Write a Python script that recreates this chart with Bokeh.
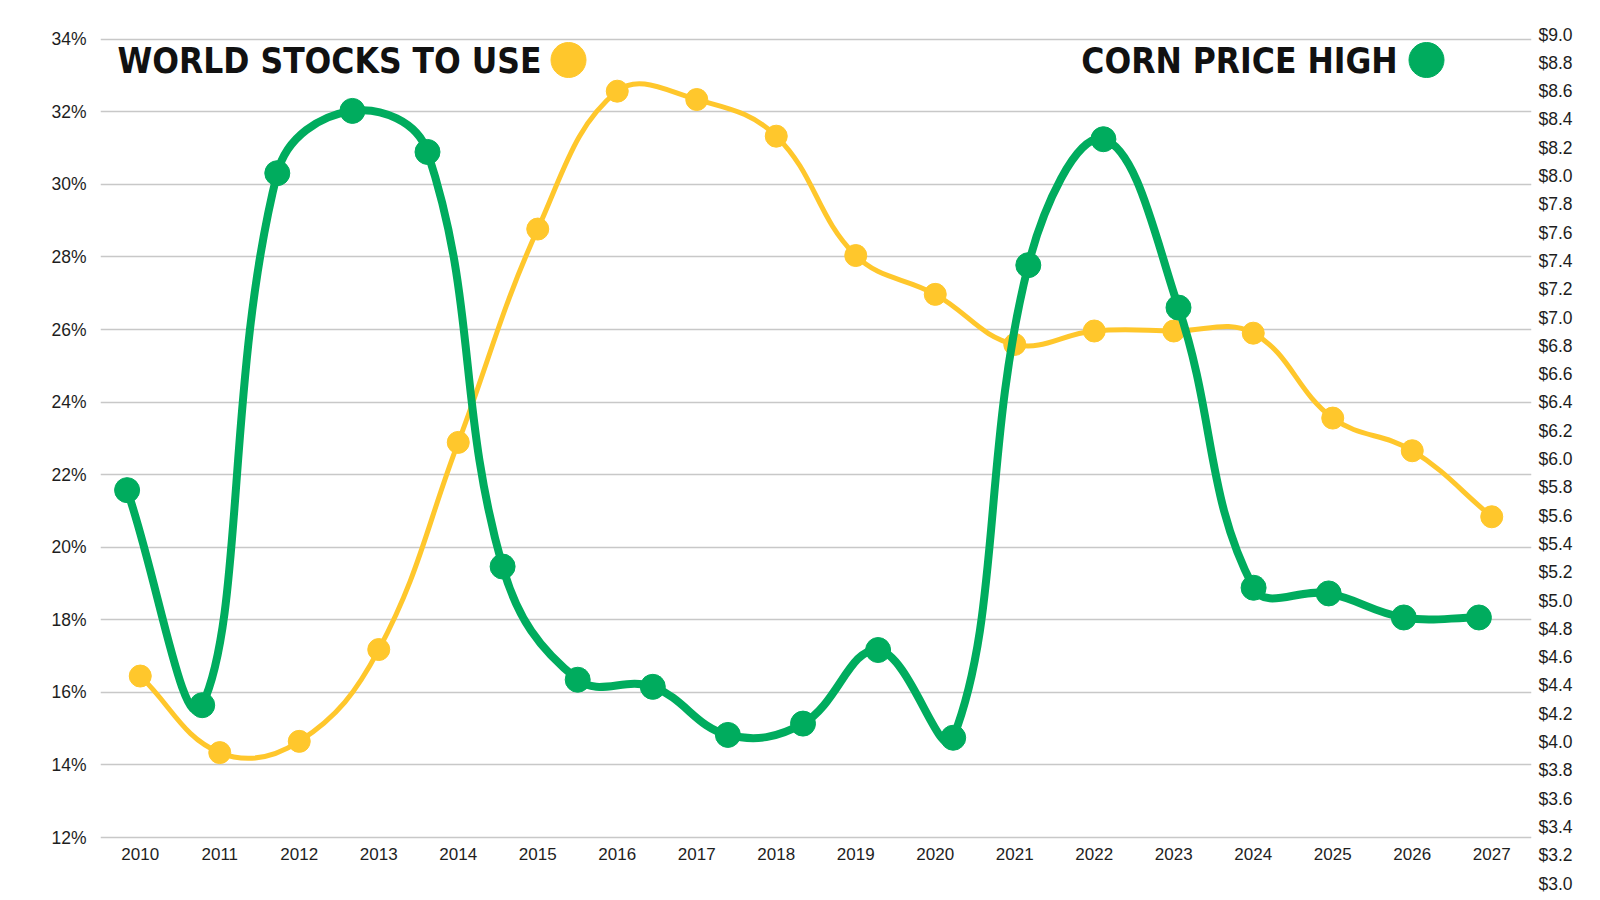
import math
from bokeh.plotting import figure
from bokeh.models import (Range1d, LinearAxis, FixedTicker, PrintfTickFormatter,
                          ColumnDataSource)
from bokeh.core.properties import value
from bokeh.embed import file_html
from bokeh.resources import INLINE

# ---------------- data ----------------
YEARS = list(range(2010, 2028))
STOCKS_TO_USE = [16.45, 14.34, 14.65, 17.18, 22.89, 28.77, 32.57, 32.34, 31.33,
                 28.04, 26.97, 25.59, 25.96, 25.96, 25.90, 23.56, 22.66, 20.84]
CORN_PRICE_HIGH = [5.78, 4.26, 8.02, 8.46, 8.17, 5.24, 4.44, 4.39, 4.05, 4.13,
                   4.65, 4.03, 7.37, 8.26, 7.07, 5.09, 5.05, 4.88, 4.88]
GREEN_IDX = list(range(len(CORN_PRICE_HIGH)))
PCT_TICKS = list(range(12, 35, 2))
PRICE_TICKS = [round(3.0 + 0.2 * i, 1) for i in range(31)]
SERIES_NAMES = ["WORLD STOCKS TO USE", "CORN PRICE HIGH"]

YELLOW = "#FFC72C"
GREEN = "#00AC5E"
TEXT = "#1e1e1e"

# ---------------- geometry (page pixels) ----------------
FRAME_L, FRAME_R, FRAME_T, FRAME_B = 100, 1531, 34, 883
FRAME_W, FRAME_H = FRAME_R - FRAME_L, FRAME_B - FRAME_T
PCT_TOP_PX, PCT_BOT_PX = 38.8, 837.0          # where 34% and 12% sit
px_per_pct = (PCT_BOT_PX - PCT_TOP_PX) / (PCT_TICKS[-1] - PCT_TICKS[0])
Y_END = PCT_TICKS[-1] + (PCT_TOP_PX - FRAME_T) / px_per_pct
Y_START = PCT_TICKS[0] - (FRAME_B - PCT_BOT_PX) / px_per_pct
X_START, X_END = YEARS[0] - 0.5, YEARS[-1] + 0.5
G_FIRST_PX, G_LAST_PX = 126.6, 1478.4
g_px = (G_LAST_PX - G_FIRST_PX) / (len(GREEN_IDX) - 1)
G_START = -(G_FIRST_PX - FRAME_L) / g_px
G_END = (len(GREEN_IDX) - 1) + (FRAME_R - G_LAST_PX) / g_px
P_START, P_END = PRICE_TICKS[0], PRICE_TICKS[-1]


def x_at(px):
    return X_START + (px - FRAME_L) / FRAME_W * (X_END - X_START)


def pct_at(py):
    return Y_START + (FRAME_B - py) / FRAME_H * (Y_END - Y_START)


def spline(xs, ys, sx, sy, tension=0.4):
    n = len(xs)
    prev_cp, next_cp = [], []
    for i in range(n):
        a, c = max(i - 1, 0), min(i + 1, n - 1)
        d01 = math.hypot((xs[i] - xs[a]) * sx, (ys[i] - ys[a]) * sy)
        d12 = math.hypot((xs[c] - xs[i]) * sx, (ys[c] - ys[i]) * sy)
        tot = d01 + d12
        s01 = d01 / tot if tot else 0.0
        s12 = d12 / tot if tot else 0.0
        fa, fb = tension * s01, tension * s12
        dx, dy = xs[c] - xs[a], ys[c] - ys[a]
        prev_cp.append((xs[i] - fa * dx, ys[i] - fa * dy))
        next_cp.append((xs[i] + fb * dx, ys[i] + fb * dy))
    return ColumnDataSource(dict(
        x0=xs[:-1], y0=ys[:-1], x1=xs[1:], y1=ys[1:],
        cx0=[p[0] for p in next_cp[:-1]], cy0=[p[1] for p in next_cp[:-1]],
        cx1=[p[0] for p in prev_cp[1:]], cy1=[p[1] for p in prev_cp[1:]]))


# ---------------- figure ----------------
p = figure(frame_width=FRAME_W, frame_height=FRAME_H,
           min_border_left=FRAME_L, min_border_top=FRAME_T,
           min_border_right=55, min_border_bottom=12,
           x_range=Range1d(X_START, X_END), y_range=Range1d(Y_START, Y_END),
           x_axis_location=None, output_backend="svg", toolbar_location=None)
p.extra_x_ranges = {"green": Range1d(G_START, G_END)}
p.extra_y_ranges = {"price": Range1d(P_START, P_END)}
p.outline_line_color = None
p.background_fill_color = "white"
p.border_fill_color = "white"

p.xgrid.visible = False
p.ygrid.ticker = FixedTicker(ticks=PCT_TICKS)
p.ygrid.grid_line_color = "#c8c8c8"
p.ygrid.grid_line_width = 1.5

lax = p.yaxis[0]
lax.ticker = FixedTicker(ticks=PCT_TICKS)
lax.formatter = PrintfTickFormatter(format="%d%%")
rax = LinearAxis(y_range_name="price", ticker=FixedTicker(ticks=PRICE_TICKS),
                 formatter=PrintfTickFormatter(format="$%.1f"))
p.add_layout(rax, "right")
for ax, standoff in ((lax, 14), (rax, 7)):
    ax.axis_line_color = None
    ax.major_tick_line_color = None
    ax.minor_tick_line_color = None
    ax.major_tick_out = 0
    ax.major_tick_in = 0
    ax.minor_tick_out = 0
    ax.minor_tick_in = 0
    ax.major_label_standoff = standoff
    ax.major_label_text_font = "Liberation Sans"
    ax.major_label_text_font_size = "17.5px"
    ax.major_label_text_color = TEXT

# year labels under the 12% line
p.text(x=YEARS, y=[pct_at(853)] * len(YEARS), text=[str(y) for y in YEARS],
       text_align="center", text_baseline="middle",
       text_font=value("Liberation Sans"), text_font_size="17px", text_color=TEXT)

# yellow series (left axis)
ysrc = spline(YEARS, STOCKS_TO_USE, FRAME_W / (X_END - X_START), FRAME_H / (Y_END - Y_START))
p.bezier(x0="x0", y0="y0", x1="x1", y1="y1", cx0="cx0", cy0="cy0", cx1="cx1", cy1="cy1",
         source=ysrc, line_color=YELLOW, line_width=5, line_cap="round")
p.scatter(YEARS, STOCKS_TO_USE, size=22, color=YELLOW)

# green series (right axis)
gsrc = spline(GREEN_IDX, CORN_PRICE_HIGH, FRAME_W / (G_END - G_START), FRAME_H / (P_END - P_START))
p.bezier(x0="x0", y0="y0", x1="x1", y1="y1", cx0="cx0", cy0="cy0", cx1="cx1", cy1="cy1",
         source=gsrc, line_color=GREEN, line_width=8, line_cap="round",
         x_range_name="green", y_range_name="price")
p.scatter(GREEN_IDX, CORN_PRICE_HIGH, size=25, color=GREEN,
          x_range_name="green", y_range_name="price")

# legend-like titles
for name, cx, dot_px, col in ((SERIES_NAMES[0], 329, 568, YELLOW),
                              (SERIES_NAMES[1], 1239, 1426, GREEN)):
    p.text(x=[x_at(cx)], y=[pct_at(60)], text=[name], text_align="center",
           text_baseline="middle", text_font=value("DejaVu Sans Condensed"),
           text_font_style="bold", text_font_size="35px", text_color="#111111")
    p.scatter([x_at(dot_px)], [pct_at(59.5)], size=35, color=col)

open("out.html", "w").write(file_html(p, INLINE))
